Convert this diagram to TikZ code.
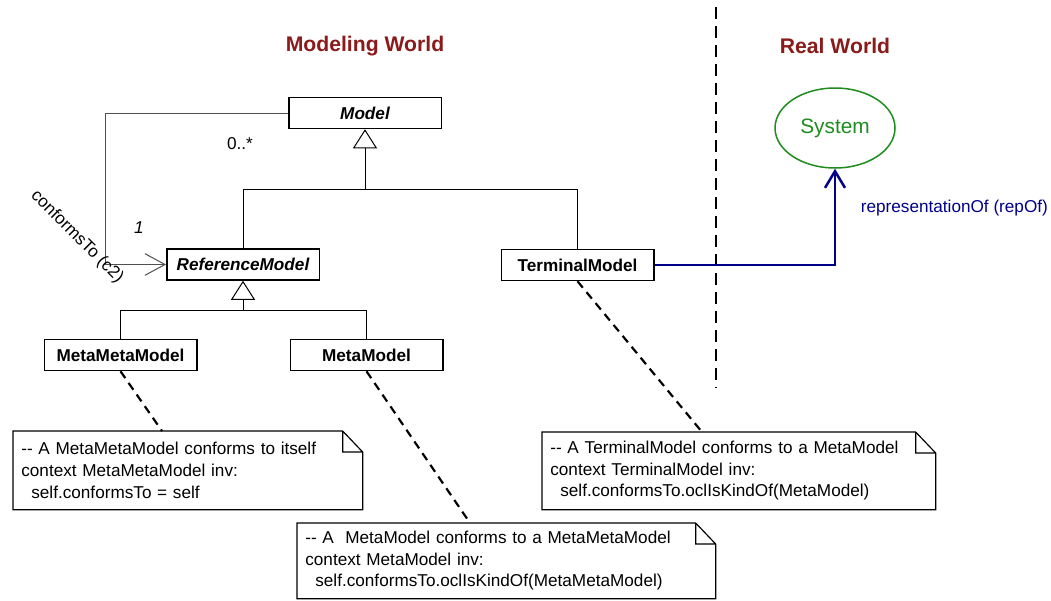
\documentclass[tikz,border=0pt]{standalone}
\usepackage{fontspec}
\setmainfont{Liberation Sans}
\usetikzlibrary{arrows.meta,positioning,shapes.geometric,calc}
\definecolor{worldred}{HTML}{8B1A1A}
\definecolor{sysgreen}{HTML}{1E8C1E}
\definecolor{repblue}{HTML}{000088}
\definecolor{assocgray}{HTML}{505050}

\begin{document}
\begin{tikzpicture}[x=0.6pt, y=-0.6pt, every node/.style={font=\fontsize{10.3}{13}\selectfont},
  class/.style={rectangle, draw, line width=0.9pt, minimum width=91.5pt, minimum height=18.6pt, inner sep=0pt, font=\fontsize{10.3}{12}\selectfont\bfseries},
  abstractclass/.style={class, font=\fontsize{10.3}{12}\selectfont\bfseries\itshape},
  worldtitle/.style={font=\fontsize{12.7}{15}\selectfont\bfseries, text=worldred},
  system/.style={ellipse, draw=sysgreen, line width=0.9pt, minimum width=72pt, minimum height=48pt, text=sysgreen, font=\fontsize{12.5}{15}\selectfont},
  note/.style={anchor=north west, align=left, inner xsep=4.8pt, inner ysep=0pt},
  noteframe/.style={line width=0.7pt},
  genline/.style={line width=0.6pt},
  gentip/.style={-{Triangle[open, length=11.4pt, width=14.4pt]}},
  assoc/.style={line width=0.6pt, assocgray, -{Straight Barb[length=12pt, width=13pt]}},
  repline/.style={line width=1.5pt, repblue, -{Straight Barb[length=10pt, width=12pt]}},
  noteline/.style={line width=1.3pt, dash pattern=on 5pt off 3.5pt},
  divider/.style={line width=1.4pt, dash pattern=on 7.2pt off 4.2pt},
]
\useasboundingbox (0,0) rectangle (1051,600);

% world titles and the border between them
\node[worldtitle] (modelingw) at (365,46) {Modeling World};
\node[worldtitle] (realw) at (835,46) {Real World};
\draw[divider] (716,7) -- (716,388);

% classes
\node[abstractclass] (model) at (365,113) {Model};
\node[abstractclass] (refmodel) at (243,264.5) {ReferenceModel};
\node[class] (terminal) at (577.5,265) {TerminalModel};
\node[class] (metameta) at (120.5,355) {MetaMetaModel};
\node[class, right=55.2pt of metameta] (meta) {MetaModel};

\node[system] (system) at (835,128) {System};

% generalizations
\coordinate (gen1) at ($(model.south)+(0,60)$);
\draw[genline] (refmodel.north) |- (gen1) -| (terminal.north);
\draw[genline, gentip] (gen1) -- (model.south);

\coordinate (gen2) at ($(refmodel.south)+(0,30)$);
\draw[genline] (metameta.north) |- (gen2) -| (meta.north);
\draw[genline, gentip] (gen2) -- (refmodel.south);

% conformsTo association
\draw[assoc] (model.west) -- ++(-183,0) |- (refmodel.west);
\node (multmany) at (240,144) {0..*};
\node (multone) at (139,228) {\itshape 1};
\node[rotate=-45] (conforms) at (77,237) {conformsTo (c2)};

% representationOf
\draw[repline] (terminal.east) -| (system.south);
\node[text=repblue, anchor=west] (repof) at (855,208) {representationOf (repOf)};

% OCL notes
\node[note, text width=199.8pt, minimum height=46.8pt] (note1) at (13,431)
  {-{}- A MetaMetaModel conforms to itself\\context MetaMetaModel inv:\\\hspace*{6pt}self.conformsTo = self};
\node[note, text width=241.2pt, minimum height=45pt] (note2) at (297,523)
  {-{}- A\ \ MetaModel conforms to a MetaMetaModel\\context MetaModel inv:\\\hspace*{6pt}self.conformsTo.oclIsKindOf(MetaMetaModel)};
\node[note, text width=226.2pt, minimum height=46.2pt] (note3) at (542,432)
  {-{}- A TerminalModel conforms to a MetaModel\\context TerminalModel inv:\\\hspace*{6pt}self.conformsTo.oclIsKindOf(MetaModel)};

\foreach \n in {note1,note2,note3} {
  \draw[noteframe] (\n.north west) -- ($(\n.north east)+(-20,0)$) -- ($(\n.north east)+(0,21)$)
    -- (\n.south east) -- (\n.south west) -- cycle
    ($(\n.north east)+(-20,0)$) |- ($(\n.north east)+(0,21)$);
}

\draw[noteline] (metameta.south) -- ($(note1.north west)+(149,0)$);
\draw[noteline] (meta.south) -- ($(note2.north west)+(173,0)$);
\draw[noteline] (terminal.south) -- ($(note3.north west)+(160,0)$);

\end{tikzpicture}
\end{document}
